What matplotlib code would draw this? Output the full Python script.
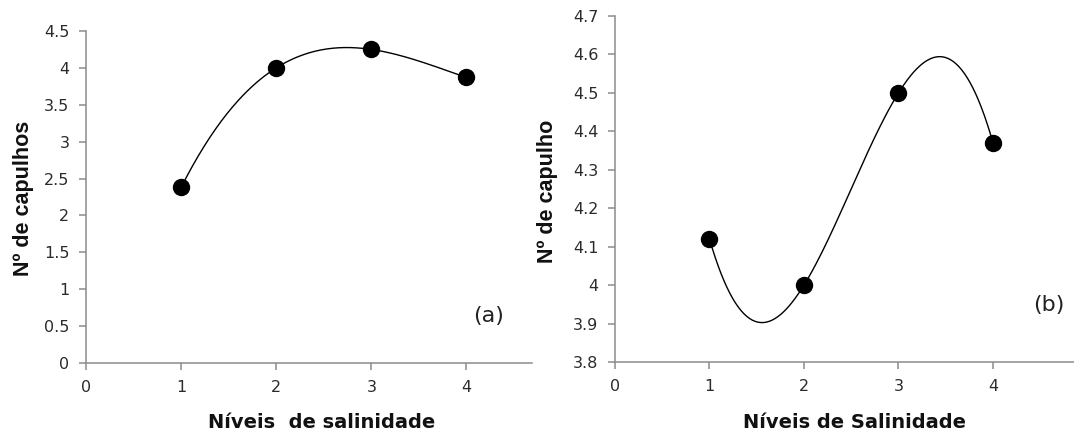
import numpy as np
from matplotlib import pyplot as plt

# panel (a)
niveis_a = [1, 2, 3, 4]
capulhos_a = [2.38, 4.0, 4.25, 3.87]
yticks_a = [0, 0.5, 1, 1.5, 2, 2.5, 3, 3.5, 4, 4.5]

# panel (b)
niveis_b = [1, 2, 3, 4]
capulho_b = [4.12, 4.0, 4.5, 4.37]
yticks_b = [3.8, 3.9, 4.0, 4.1, 4.2, 4.3, 4.4, 4.5, 4.6, 4.7]

xticks = [0, 1, 2, 3, 4]

AXIS_GRAY = '#8c8c8c'
TICK_COLOR = '#2b2b2b'
XLABEL_FONT = dict(fontsize=14, fontweight='bold', family='DejaVu Sans', color='#111111')
YLABEL_FONT = dict(fontsize=15.5, fontweight='bold', family='Liberation Sans', color='#111111')


def style_axis(ax):
    for side in ['top', 'right']:
        ax.spines[side].set_visible(False)
    for side in ['left', 'bottom']:
        ax.spines[side].set_color(AXIS_GRAY)
        ax.spines[side].set_linewidth(1.1)
    ax.tick_params(axis='both', direction='out', length=5, width=1.1,
                   color=AXIS_GRAY, labelcolor=TICK_COLOR, labelsize=11.5)
    ax.tick_params(axis='y', pad=7)
    ax.tick_params(axis='x', pad=7)
    ax.patch.set_alpha(0)


def trend(ax, x, y):
    # cubic polynomial trendline through the points
    coef = np.polyfit(x, y, 3)
    xs = np.linspace(min(x), max(x), 200)
    ax.plot(xs, np.polyval(coef, xs), color='black', linewidth=1.0, zorder=2)
    ax.plot(x, y, 'o', color='black', markersize=11.5, zorder=3)


fig = plt.figure(figsize=(10.74, 4.34), dpi=100)

ax1 = fig.add_axes([0.0801, 0.1636, 0.4153, 0.765])
trend(ax1, niveis_a, capulhos_a)
ax1.set_xlim(0, 4.69)
ax1.set_ylim(0, 4.5)
ax1.set_xticks(xticks)
ax1.set_yticks(yticks_a)
ax1.set_yticklabels([('%g' % v) for v in yticks_a])
style_axis(ax1)
fig.text(0.299, 0.0138, 'Níveis  de salinidade', ha='center', va='baseline', **XLABEL_FONT)
fig.text(0.0215, 0.544, 'Nº de capulhos', ha='center', va='center', rotation=90, **YLABEL_FONT)
fig.text(0.455, 0.272, '(a)', ha='center', va='center', fontsize=16, color='#222222')

ax2 = fig.add_axes([0.5726, 0.1659, 0.4274, 0.7972])
trend(ax2, niveis_b, capulho_b)
ax2.set_xlim(0, 4.857)
ax2.set_ylim(3.8, 4.7)
ax2.set_xticks(xticks)
ax2.set_yticks(yticks_b)
ax2.set_yticklabels([('%g' % v) for v in yticks_b])
style_axis(ax2)
fig.text(0.796, 0.0138, 'Níveis de Salinidade', ha='center', va='baseline', **XLABEL_FONT)
fig.text(0.510, 0.56, 'Nº de capulho', ha='center', va='center', rotation=90, **YLABEL_FONT)
fig.text(0.977, 0.297, '(b)', ha='center', va='center', fontsize=16, color='#222222')

fig.savefig('out.png', dpi=100)
